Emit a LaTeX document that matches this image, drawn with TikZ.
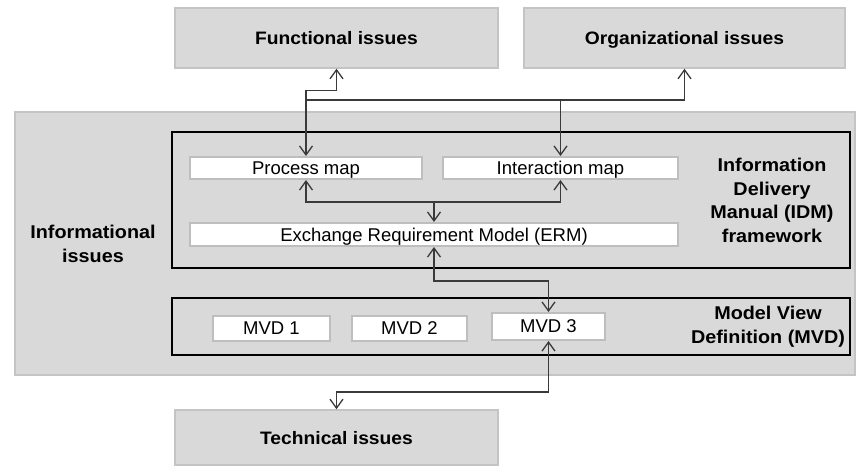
\documentclass[tikz,border=0pt]{standalone}
\usepackage{fontspec}
\setmainfont{Liberation Sans}[BoldFeatures={FakeStretch=1.07}]
\usetikzlibrary{arrows.meta}
\definecolor{boxgray}{HTML}{D9D9D9}
\definecolor{boxedge}{HTML}{C4C4C4}
\definecolor{wedge}{HTML}{BEBEBE}
\definecolor{conncol}{HTML}{3A3A3A}
\tikzset{
  graybox/.style={draw=boxedge, line width=1.5pt, fill=boxgray, inner sep=0pt, anchor=center,
    text depth=0pt, font=\fontsize{18}{21}\selectfont\bfseries},
  frame/.style={draw=black, line width=2.6pt, inner sep=0pt},
  whitebox/.style={draw=wedge, line width=2pt, fill=white, inner sep=0pt, text depth=0pt,
    font=\fontsize{18.5}{21}\selectfont},
  lbl/.style={align=center, font=\fontsize{18.5}{23.5}\selectfont\bfseries, inner sep=0pt},
  conn/.style={draw=conncol, line width=1.3pt, {Straight Barb[length=9pt,width=13pt]}-{Straight Barb[length=9pt,width=13pt]}},
  conn1/.style={draw=conncol, line width=1.3pt, -{Straight Barb[length=9pt,width=13pt]}},
}
\begin{document}
\begin{tikzpicture}[x=1pt,y=-1pt]
\useasboundingbox (0,0) rectangle (860,468);
% outer gray boxes
\node[graybox, minimum width=840pt, minimum height=263pt] (info) at (435,243.5) {};
\node[graybox, minimum width=323pt, minimum height=60pt] (func) at (336.5,38) {Functional issues};
\node[graybox, minimum width=321pt, minimum height=60pt] (org) at (684.5,38) {Organizational issues};
\node[graybox, minimum width=323pt, minimum height=55pt] (tech) at (336.5,437.5) {Technical issues};
\node[lbl] (infolbl) at (93,244) {Informational\\issues};
% frames
\node[frame, minimum width=678pt, minimum height=136pt] (idm) at (511,200) {};
\node[frame, minimum width=678pt, minimum height=57pt] (mvd) at (511,326.5) {};
\node[lbl] (idmlbl) at (772,200.5) {Information\\Delivery\\Manual (IDM)\\framework};
\node[lbl] (mvdlbl) at (768,326.5) {Model View\\Definition (MVD)};
% white boxes
\node[whitebox, minimum width=232pt, minimum height=22pt] (proc) at (306,168) {Process map};
\node[whitebox, minimum width=235pt, minimum height=22pt] (inter) at (560.5,168) {Interaction map};
\node[whitebox, minimum width=488pt, minimum height=23pt] (erm) at (434,234.5) {Exchange Requirement Model (ERM)};
\node[whitebox, minimum width=117pt, minimum height=25pt] (mvd1) at (271.5,328.5) {MVD 1};
\node[whitebox, minimum width=115pt, minimum height=25pt] (mvd2) at (409.5,328.5) {MVD 2};
\node[whitebox, minimum width=113pt, minimum height=27pt] (mvd3) at (548.5,326.5) {MVD 3};
% junctions
\coordinate (jA) at (306,100);
\coordinate (jB) at (434,201);
% connectors
\draw[conn] (func.south) -- ++(0,22) -| (proc.north);
\draw[conn1] (jA) -| (org.south);
\draw[conn1] (inter.north |- jA) -- (inter.north);
\draw[conn] (proc.south) -- ++(0,22) -| (inter.south);
\draw[conn1] (jB) -- (erm.north);
\draw[conn] (erm.south) -- ++(0,34) -| (mvd3.north);
\draw[conn] (mvd3.south) -- ++(0,51) -| (tech.north);
\end{tikzpicture}
\end{document}
